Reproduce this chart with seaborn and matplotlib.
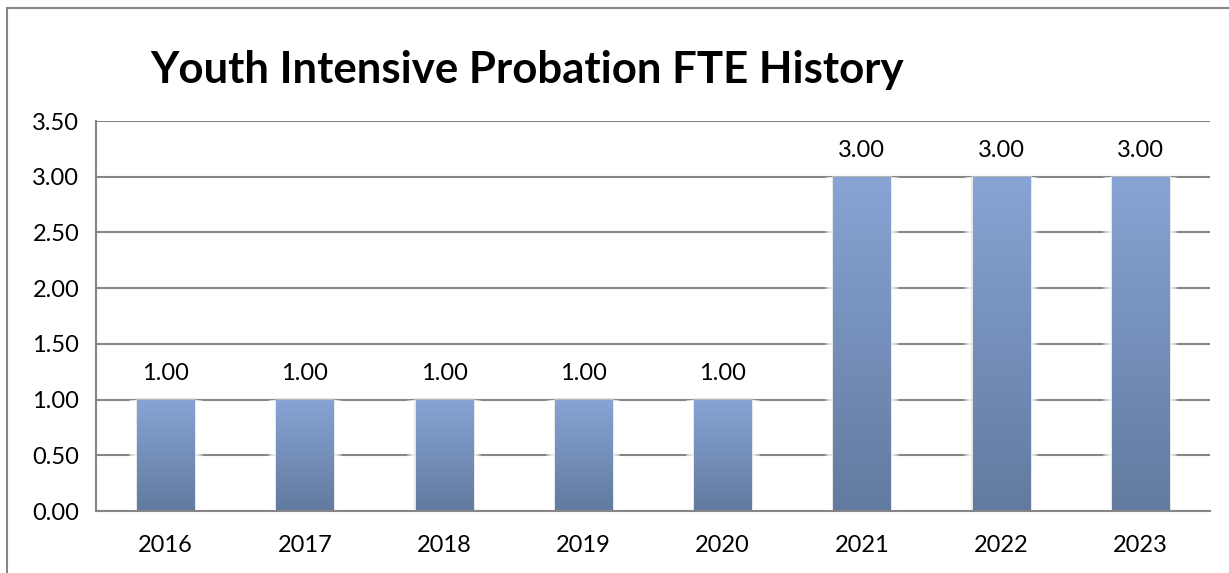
import numpy as np
import pandas as pd
import matplotlib
matplotlib.use("Agg")
import matplotlib.pyplot as plt
import seaborn as sb
from matplotlib.patches import Rectangle
from matplotlib.ticker import MultipleLocator, FixedLocator

# chart data
years = ['2016', '2017', '2018', '2019', '2020', '2021', '2022', '2023']
fte = [1.00, 1.00, 1.00, 1.00, 1.00, 3.00, 3.00, 3.00]
title = 'Youth Intensive Probation FTE History'

df = pd.DataFrame({'Year': years, 'FTE': fte})

sb.set_style('white')
plt.rcParams['font.family'] = ['Lato', 'DejaVu Sans']
plt.rcParams['text.color'] = 'black'

fig = plt.figure(figsize=(12.29, 5.73), dpi=100)
ax = fig.add_axes([96 / 1229, 1 - 511 / 573, 1114 / 1229, 390 / 573])

sb.barplot(data=df, x='Year', y='FTE', color='#7b96c4', width=0.41, ax=ax, zorder=3)

# vertical gradient fill on each bar (light top, darker bottom)
grad = np.linspace(0, 1, 256).reshape(-1, 1)
cmap = matplotlib.colors.LinearSegmentedColormap.from_list('bar', ['#627a9f', '#87a4d5'])
for p in ax.patches[:]:
    x0, y0 = p.get_x(), p.get_y()
    w, h = p.get_width(), p.get_height()
    p.set_facecolor('none')
    p.set_edgecolor('none')
    # soft white glow / shadow around the bar
    for k in range(1, 6):
        pad = 0.012 * k
        ax.add_patch(Rectangle((x0 - pad, y0), w + 2 * pad, h, facecolor='white',
                               edgecolor='none', alpha=0.35, zorder=2))
    ax.add_patch(Rectangle((x0 - 0.008, y0), w + 0.022, h + 0.01, facecolor='#d9d9d9',
                           edgecolor='none', alpha=0.6, zorder=2.5))
    im = ax.imshow(grad, extent=[x0, x0 + w, y0, y0 + h], origin='lower',
                   cmap=cmap, aspect='auto', zorder=3)
    im.set_clip_path(p)
    # value label above the bar
    ax.annotate('{:.2f}'.format(h), (x0 + w / 2, y0 + h), xytext=(0, 11),
                textcoords='offset points', ha='center', va='bottom', fontsize=17,
                color='black')

ax.set_xlim(-0.5, len(years) - 0.5)
ax.set_ylim(0, 3.5)
ax.yaxis.set_major_locator(MultipleLocator(0.5))
ax.set_yticklabels(['{:.2f}'.format(v) for v in ax.get_yticks()])
ax.grid(axis='y', color='#868686', linewidth=1.5, zorder=0)
ax.set_axisbelow(True)

# category boundary tick marks
ax.xaxis.set_minor_locator(FixedLocator(np.arange(-0.5, len(years), 1)))
ax.tick_params(axis='x', which='major', length=0, pad=17, labelsize=17, labelcolor='black')
ax.tick_params(axis='x', which='minor', length=7, width=1.5, color='#868686', direction='out')
ax.tick_params(axis='y', length=7, width=1.5, color='#868686', direction='out', pad=5,
               labelsize=17, labelcolor='black')

ax.set_xlabel('')
ax.set_ylabel('')
for s in ['top', 'right']:
    ax.spines[s].set_visible(False)
for s in ['left', 'bottom']:
    ax.spines[s].set_color('#868686')
    ax.spines[s].set_linewidth(1.5)
    ax.spines[s].set_zorder(4)

fig.text(527 / 1229, 1 - 70 / 573, title, ha='center', va='center',
         fontsize=31.5, fontweight='bold', color='black')

# chart area border
fig.patches.append(Rectangle((7 / 1229, -0.1), 1.1, 1.1 - 8 / 573, transform=fig.transFigure,
                             fill=False, edgecolor='#868686', linewidth=1.5))

fig.savefig('out.png', dpi=100)
